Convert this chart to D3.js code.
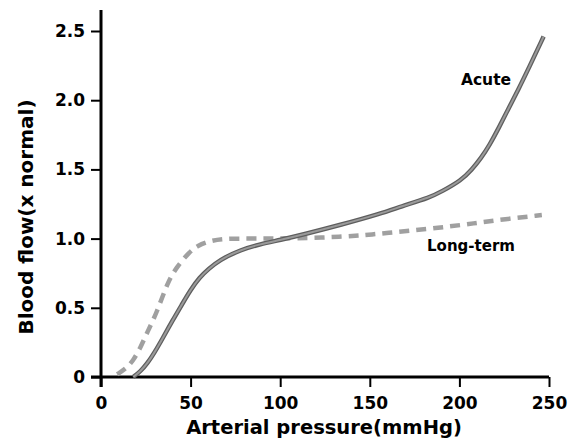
<!DOCTYPE html>
<html><head><meta charset="utf-8">
<script src="https://cdn.jsdelivr.net/npm/d3@7"></script>
<style>body{margin:0;background:#fff}svg{display:block}text{font-family:"DejaVu Sans",sans-serif;font-weight:bold;fill:#000}</style>
</head><body>
<script>
const xTicks = [0, 50, 100, 150, 200, 250];
const yTicks = [0, 0.5, 1.0, 1.5, 2.0, 2.5];
const yTickLabels = ["0", "0.5", "1.0", "1.5", "2.0", "2.5"];
const acutePressure = [18, 22, 26, 30, 34, 40, 45, 50, 55, 60, 66, 78, 89, 100, 113, 134, 156, 167, 184, 190, 201, 207, 212, 217, 222, 227, 233, 239, 247];
const acuteFlow = [0, 0.04, 0.1, 0.18, 0.27, 0.41, 0.52, 0.63, 0.72, 0.78, 0.845, 0.92, 0.96, 0.99, 1.03, 1.1, 1.18, 1.23, 1.3, 1.34, 1.42, 1.5, 1.58, 1.68, 1.8, 1.93, 2.08, 2.24, 2.46];
const longPressure = [9, 14, 18, 22, 26, 31, 37, 42, 49, 54, 60, 68, 83, 100, 134, 160, 190, 208, 225, 246];
const longFlow = [0.02, 0.06, 0.12, 0.21, 0.33, 0.46, 0.68, 0.79, 0.9, 0.95, 0.98, 1.0, 1.0, 1.0, 1.01, 1.04, 1.08, 1.11, 1.14, 1.17];

const W = 575, H = 441;
const svg = d3.select("body").append("svg").attr("width", W).attr("height", H);
const x = d3.scaleLinear().domain([0, 250]).range([101, 549]);
const y = d3.scaleLinear().domain([0, 2.5]).range([377, 31]);

// axes
const gx = svg.append("g").attr("transform", `translate(0,${y(0)})`)
  .call(d3.axisBottom(x).tickValues(xTicks).tickSize(10).tickSizeOuter(0).tickPadding(8));
gx.select(".domain").remove();
gx.selectAll(".tick line").attr("stroke", "#000").attr("stroke-width", 2);
gx.selectAll(".tick text").attr("font-size", 17).attr("dy", "0.85em");

const gy = svg.append("g").attr("transform", `translate(${x(0)},0)`)
  .call(d3.axisLeft(y).tickValues(yTicks).tickFormat((d, i) => yTickLabels[i]).tickSize(10).tickSizeOuter(0).tickPadding(6));
gy.select(".domain").remove();
gy.selectAll(".tick line").attr("stroke", "#000").attr("stroke-width", 2);
gy.selectAll(".tick text").attr("font-size", 17);

svg.append("line").attr("x1", x(0)).attr("x2", x(0)).attr("y1", y(2.5) - 21).attr("y2", y(0) + 10)
  .attr("stroke", "#000").attr("stroke-width", 3);
svg.append("line").attr("x1", x(0) - 10).attr("x2", x(250)).attr("y1", y(0)).attr("y2", y(0))
  .attr("stroke", "#000").attr("stroke-width", 3);

// curves
const line = d3.line().x(d => x(d[0])).y(d => y(d[1])).curve(d3.curveBasis);
const longData = longPressure.map((p, i) => [p, longFlow[i]]);
const acuteData = acutePressure.map((p, i) => [p, acuteFlow[i]]);
svg.append("path").datum(longData).attr("d", line).attr("fill", "none")
  .attr("stroke", "#a0a0a0").attr("stroke-width", 4.5).attr("stroke-dasharray", "10,7");
svg.append("path").datum(acuteData).attr("d", line).attr("fill", "none")
  .attr("stroke", "#5e5e5e").attr("stroke-width", 4.5);
svg.append("path").datum(acuteData).attr("d", line).attr("fill", "none")
  .attr("stroke", "#9a9a9a").attr("stroke-width", 2);

// labels
svg.append("text").attr("x", 486).attr("y", 85).attr("text-anchor", "middle").attr("font-size", 15.5).text("Acute");
svg.append("text").attr("x", 471).attr("y", 251).attr("text-anchor", "middle").attr("font-size", 15).text("Long-term");

svg.append("text").attr("x", 324).attr("y", 434).attr("text-anchor", "middle").attr("font-size", 19.5).text("Arterial pressure(mmHg)");
svg.append("text").attr("transform", "translate(33,217) rotate(-90)").attr("text-anchor", "middle").attr("font-size", 20).text("Blood flow(x normal)");
</script>
</body></html>
